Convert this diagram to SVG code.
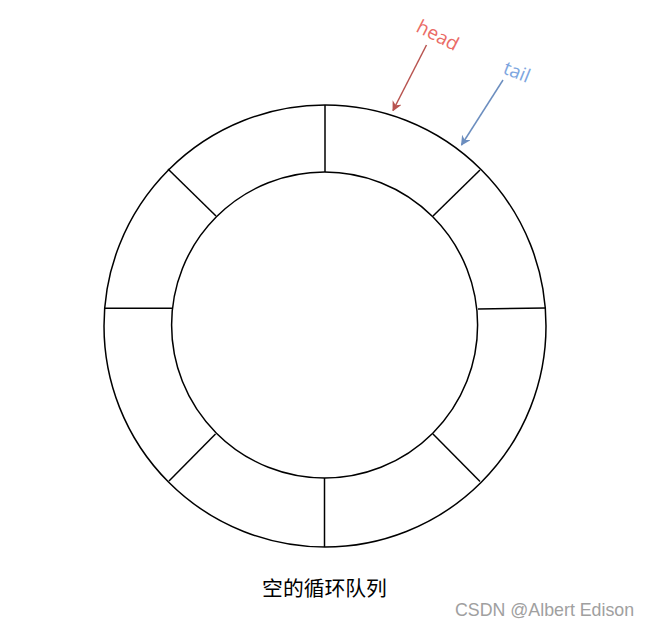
<svg xmlns="http://www.w3.org/2000/svg" width="649" height="627" viewBox="0 0 649 627">
<style>
.ring{fill:none;stroke:#000;stroke-width:1.5}
.div{stroke:#000;stroke-width:1.5}
.lbl{font-family:"Open Sans","DejaVu Sans",sans-serif;font-size:19px}
</style>
<defs>
<marker id="ah-red" viewBox="0 0 10 10" refX="9" refY="5" markerWidth="10" markerHeight="10" markerUnits="userSpaceOnUse" orient="auto">
<path d="M0,0 L10,5 L0,10 L3,5 Z" fill="#b85450"/>
</marker>
<marker id="ah-blue" viewBox="0 0 10 10" refX="9" refY="5" markerWidth="10" markerHeight="10" markerUnits="userSpaceOnUse" orient="auto">
<path d="M0,0 L10,5 L0,10 L3,5 Z" fill="#6c8ebf"/>
</marker>
</defs>
<rect width="649" height="627" fill="#fff"/>
<g id="queue-ring">
<circle class="ring" cx="325" cy="326" r="221"/>
<circle class="ring" cx="324.6" cy="325" r="153"/>
<line class="div" x1="325" y1="105" x2="325" y2="172"/>
<line class="div" x1="480" y1="170" x2="433" y2="216"/>
<line class="div" x1="478" y1="309" x2="545.5" y2="308"/>
<line class="div" x1="433" y1="434" x2="480" y2="481.5"/>
<line class="div" x1="324.5" y1="478" x2="324.5" y2="547"/>
<line class="div" x1="215.5" y1="434" x2="169" y2="481"/>
<line class="div" x1="104" y1="308.3" x2="172" y2="308.3"/>
<line class="div" x1="168" y1="169" x2="216" y2="216"/>
</g>
<g id="head-label">
<text class="lbl" fill="#ea6b66" transform="translate(415,31) rotate(27)">head</text>
</g>
<g id="tail-label">
<text class="lbl" fill="#7ea6e0" transform="translate(502,73) rotate(22)">tail</text>
</g>
<g id="connectors">
<line x1="426.5" y1="45" x2="393" y2="110.5" stroke="#b85450" stroke-width="1.5" marker-end="url(#ah-red)"/>
<line x1="503" y1="80" x2="461.5" y2="145" stroke="#6c8ebf" stroke-width="1.5" marker-end="url(#ah-blue)"/>
</g>
<g id="caption">
<text x="324.5" y="596" text-anchor="middle" font-family="Noto Sans CJK SC, sans-serif" font-size="20.8" fill="#000">空的循环队列</text>
</g>
<text x="455" y="616" font-family="Liberation Sans, Arial, sans-serif" font-size="17.8" fill="#a0a0a0">CSDN @Albert Edison</text>
</svg>
